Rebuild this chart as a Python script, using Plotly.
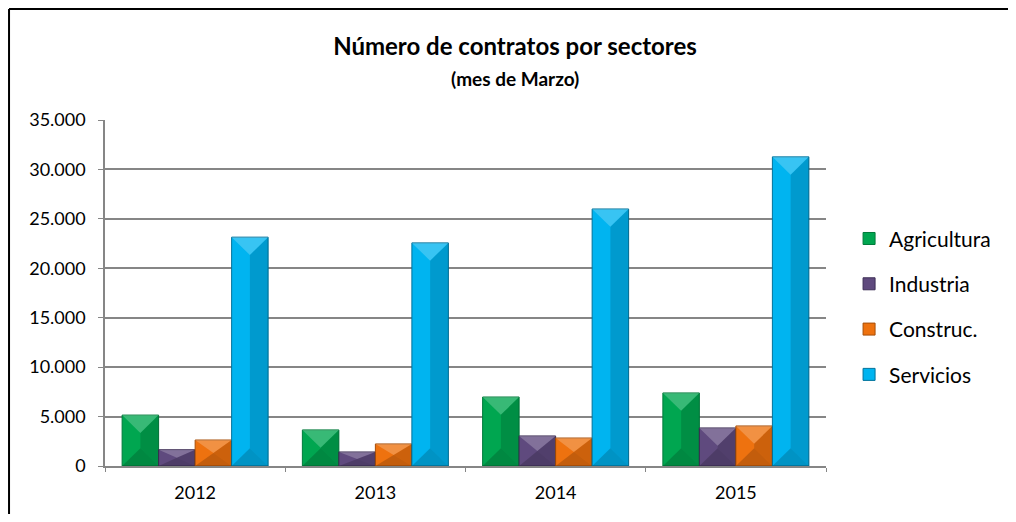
import plotly.graph_objects as go

years = ['2012', '2013', '2014', '2015']

agricultura = [5150, 3650, 6980, 7390]
industria = [1650, 1420, 3040, 3850]
construc = [2630, 2230, 2830, 4050]
servicios = [23150, 22570, 26000, 31270]

series = [
    ('Agricultura', agricultura, '#00A650', '#007A3A'),
    ('Industria', industria, '#5F4A7E', '#3D2E55'),
    ('Construc.', construc, '#EE720F', '#A64E08'),
    ('Servicios', servicios, '#00B4F0', '#00719A'),
]

font = 'Lato'
gap = 0.19
bw = (1 - gap) / len(series)

fig = go.Figure()
shapes = []
for i, (name, vals, col, edge) in enumerate(series):
    fig.add_trace(go.Bar(
        x=years, y=vals, name=name,
        marker=dict(color=col, line=dict(color=edge, width=1)),
        legendgroup=str(i),
    ))
    # bevel look: light top, dark bottom, shaded right side
    for k, v in enumerate(vals):
        xc = k - (1 - gap) / 2 + bw * (i + 0.5)
        x0, x1 = xc - bw / 2, xc + bw / 2
        d = min(1800, v / 2)
        shapes.append(dict(type='path', xref='x', yref='y', line_width=0,
                           path=f'M {x0},{v} L {x1},{v} L {xc},{v-d} Z',
                           fillcolor='rgba(255,255,255,0.22)'))
        shapes.append(dict(type='path', xref='x', yref='y', line_width=0,
                           path=f'M {x1},{v} L {x1},0 L {xc},{d} L {xc},{v-d} Z',
                           fillcolor='rgba(0,0,0,0.14)'))
        shapes.append(dict(type='path', xref='x', yref='y', line_width=0,
                           path=f'M {x0},0 L {x1},0 L {xc},{d} Z',
                           fillcolor='rgba(0,0,0,0.18)'))

# chart frame: only top and left edges are inside the picture
frame = dict(color='black', width=2)
shapes.append(dict(type='line', xref='paper', yref='paper',
                   x0=-0.1331, x1=1.3, y0=1.3208, y1=1.3208, line=frame))
shapes.append(dict(type='line', xref='paper', yref='paper',
                   x0=-0.1331, x1=-0.1331, y0=-0.2, y1=1.3208, line=frame))

fig.update_layout(
    width=1000, height=506,
    barmode='group', bargap=gap, bargroupgap=0,
    separators=',.',
    paper_bgcolor='white', plot_bgcolor='white',
    margin=dict(l=97, r=182, t=112, b=48),
    font=dict(family=font, color='black', size=18),
    title=dict(
        text='<b>Número de contratos por sectores</b>',
        x=507 / 1000, xref='container', xanchor='center',
        y=1 - 39 / 506, yanchor='middle',
        font=dict(size=24, family=font),
    ),
    annotations=[dict(
        text='<b>(mes de Marzo)</b>', xref='paper', yref='paper',
        x=(507 - 97) / 721, y=(458 - 70) / 346, xanchor='center', yanchor='middle',
        showarrow=False, font=dict(size=19, family=font),
    )],
    legend=dict(
        x=1.032, xanchor='left', y=0.46, yanchor='middle',
        font=dict(size=21, family=font),
        tracegroupgap=15, itemwidth=30,
        bgcolor='rgba(0,0,0,0)',
    ),
    shapes=shapes,
)

fig.update_yaxes(
    range=[0, 35000], dtick=5000, tickformat=',d',
    showgrid=True, gridcolor='#868686', gridwidth=1.5,
    showline=True, linecolor='#868686', linewidth=1.5,
    ticks='outside', ticklen=5, tickcolor='#868686',
    ticklabelstandoff=9,
    zeroline=False, tickfont=dict(size=18),
)
fig.update_xaxes(
    showline=True, linecolor='#868686', linewidth=1.5,
    ticks='outside', tickson='boundaries', ticklen=4, tickcolor='#868686',
    ticklabelstandoff=10,
    tickfont=dict(size=18), range=[-0.5, 3.5],
)

fig.write_html('out.html')
